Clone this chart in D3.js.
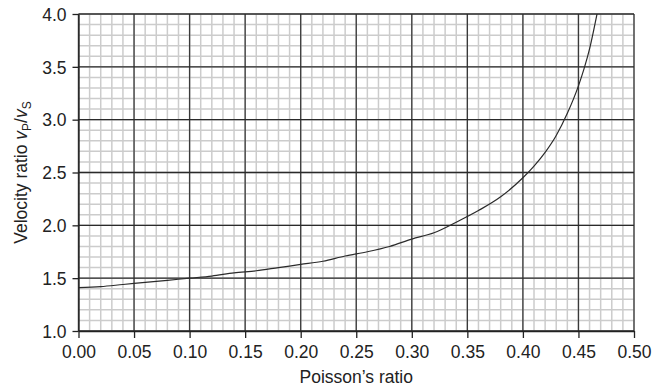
<!DOCTYPE html>
<html>
<head>
<meta charset="utf-8">
<script src="https://cdn.jsdelivr.net/npm/d3@7/dist/d3.min.js"></script>
<style>
  html, body { margin: 0; padding: 0; background: #fff; }
  svg { display: block; font-family: "Liberation Sans", Arial, sans-serif; }
</style>
</head>
<body>
<svg id="chart" width="653" height="391"></svg>
<script>
// Poisson's ratio against P/S velocity ratio
const poisson = [0.00, 0.02, 0.04, 0.06, 0.08, 0.10, 0.12, 0.14, 0.16, 0.18, 0.20,
                 0.22, 0.24, 0.26, 0.28, 0.30, 0.32, 0.34, 0.36, 0.38, 0.40,
                 0.41, 0.42, 0.43, 0.44, 0.45, 0.455, 0.46, 0.4667];
const velocityRatio = [1.41, 1.42, 1.44, 1.46, 1.48, 1.50, 1.52, 1.55, 1.57, 1.60, 1.63,
                       1.66, 1.71, 1.75, 1.80, 1.87, 1.93, 2.03, 2.14, 2.27, 2.45,
                       2.56, 2.69, 2.85, 3.06, 3.32, 3.48, 3.67, 4.00];
const xTicks = [0.00, 0.05, 0.10, 0.15, 0.20, 0.25, 0.30, 0.35, 0.40, 0.45, 0.50];
const yTicks = [1.0, 1.5, 2.0, 2.5, 3.0, 3.5, 4.0];
const xMinorStep = 0.01;
const yMinorStep = 0.1;

const svg = d3.select("#chart");
const margin = { left: 78.5, right: 19, top: 14, bottom: 60 };
const W = 653, H = 391;

const x = d3.scaleLinear().domain([0, 0.5]).range([margin.left, W - margin.right]);
const y = d3.scaleLinear().domain([1.0, 4.0]).range([H - margin.bottom, margin.top]);

const xMinor = d3.range(0, 50 + 1).map(i => +(i * xMinorStep).toFixed(2));
const yMinor = d3.range(0, 30 + 1).map(i => +(1 + i * yMinorStep).toFixed(1));

const grid = svg.append("g");
// minor grid
grid.selectAll("line.vmin").data(xMinor).join("line")
  .attr("x1", d => x(d)).attr("x2", d => x(d))
  .attr("y1", y(1)).attr("y2", y(4))
  .attr("stroke", "#cccccc").attr("stroke-width", 1.5);
grid.selectAll("line.hmin").data(yMinor).join("line")
  .attr("y1", d => y(d)).attr("y2", d => y(d))
  .attr("x1", x(0)).attr("x2", x(0.5))
  .attr("stroke", "#cccccc").attr("stroke-width", 1.5);
// major grid
grid.selectAll("line.vmaj").data(xTicks).join("line")
  .attr("x1", d => x(d)).attr("x2", d => x(d))
  .attr("y1", y(1)).attr("y2", y(4))
  .attr("stroke", "#3a3a3a").attr("stroke-width", 1.3);
grid.selectAll("line.hmaj").data(yTicks).join("line")
  .attr("y1", d => y(d)).attr("y2", d => y(d))
  .attr("x1", x(0)).attr("x2", x(0.5))
  .attr("stroke", "#2a2a2a").attr("stroke-width", 1.3);

// curve
const clipId = "plotclip";
svg.append("clipPath").attr("id", clipId).append("rect")
  .attr("x", x(0)).attr("y", y(4)).attr("width", x(0.5) - x(0)).attr("height", y(1) - y(4));
const pts = poisson.map((p, i) => [p, velocityRatio[i]]);
svg.append("path")
  .datum(pts)
  .attr("clip-path", `url(#${clipId})`)
  .attr("fill", "none")
  .attr("stroke", "#2b2b2b")
  .attr("stroke-width", 1.2)
  .attr("d", d3.line().x(d => x(d[0])).y(d => y(d[1])).curve(d3.curveMonotoneX));

// axes
const xAxis = svg.append("g")
  .attr("transform", `translate(0,${y(1)})`)
  .call(d3.axisBottom(x).tickValues(xTicks).tickSize(7).tickSizeOuter(0).tickFormat(d3.format(".2f")));
const yAxis = svg.append("g")
  .attr("transform", `translate(${x(0)},0)`)
  .call(d3.axisLeft(y).tickValues(yTicks).tickSize(6).tickSizeOuter(0).tickFormat(d3.format(".1f")));
[xAxis, yAxis].forEach(a => {
  a.select(".domain").attr("stroke", "#222").attr("stroke-width", 1.3);
  a.selectAll(".tick line").attr("stroke", "#222").attr("stroke-width", 1.3);
  a.selectAll(".tick text").attr("fill", "#222")
    .style("font-size", "17.5px").style("font-family", "'Liberation Sans', Arial, sans-serif");
});
xAxis.selectAll(".tick text").attr("dy", null).attr("y", 27);
yAxis.selectAll(".tick text").attr("x", -12).attr("dy", "0.36em");

// axis titles
svg.append("text")
  .attr("x", (x(0) + x(0.5)) / 2).attr("y", 383)
  .attr("text-anchor", "middle").attr("fill", "#222")
  .style("font-size", "17.5px")
  .text("Poisson\u2019s ratio");

const yt = svg.append("text")
  .attr("transform", `translate(27,${(y(1) + y(4)) / 2}) rotate(-90)`)
  .attr("text-anchor", "middle").attr("fill", "#222")
  .style("font-size", "17.5px");
yt.append("tspan").text("Velocity ratio ");
yt.append("tspan").style("font-style", "italic").text("v");
yt.append("tspan").attr("dy", 4).style("font-size", "12px").text("P");
yt.append("tspan").attr("dy", -4).text("/");
yt.append("tspan").style("font-style", "italic").text("v");
yt.append("tspan").attr("dy", 4).style("font-size", "12px").text("S");
</script>
</body>
</html>
